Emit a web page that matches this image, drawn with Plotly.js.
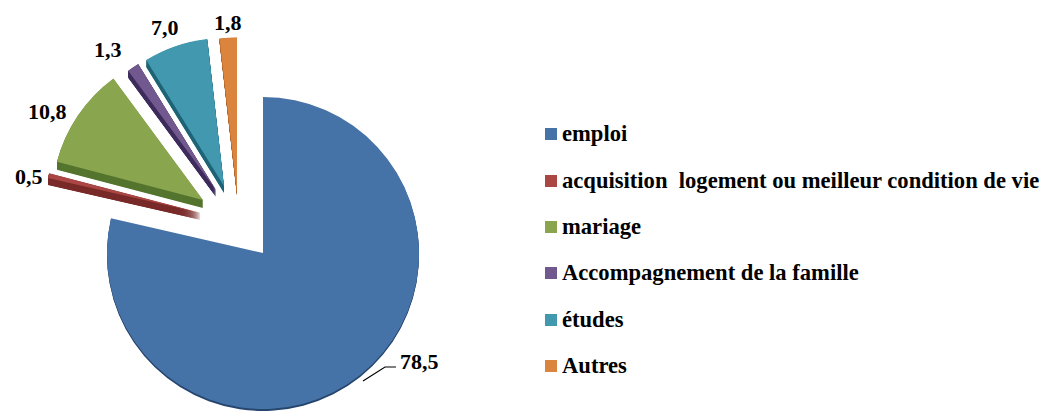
<!DOCTYPE html>
<html>
<head>
<meta charset="utf-8">
<script src="https://cdn.plot.ly/plotly-3.0.1.min.js"></script>
<style>
html,body{margin:0;padding:0;background:#fff;overflow:hidden}
</style>
</head>
<body>
<div id="chart"></div>
<script>
const categories = ["emploi","acquisition  logement ou meilleur condition de vie","mariage","Accompagnement de la famille","études","Autres"];
const values = [78.5,0.5,10.8,1.3,7.0,1.8];
const faceColors = ["#4673a7","#aa4643","#89a54e","#71588f","#4198af","#db843d"];
const sideColors = ["#27466e","#7a2c2a","#55752f","#3f2d5c","#1f6477","#a8622a"];
// where each exploded wedge sits: apex position and radius, in pixels
const apexX = [263,201,203,216,224,237];
const apexY = [253,213,200,190,186,192.5];
const radius = [156,157,151,148,148,155];
const depth = [2,7,8,7,7,3];
const depthStep = [1,0.25,0.5,0.25,0.5,0.25];
const labelX = [419,29,47,108,165,228];
const labelY = [361,177,111,49,28,23];
const legendY = [134,181,227,273,320,366];

const W = 1046, H = 412, FONT = "Liberation Serif";
const py = p => 1 - p / H;

const wedge = (i, color, dy) => ({
  type:"pie", values:values, labels:categories, sort:false, direction:"clockwise", rotation:0,
  marker:{colors:categories.map((_,j)=> j===i ? color : "rgba(0,0,0,0)"), line:{width:0}},
  textinfo:"none", showlegend:false, hoverinfo:"skip",
  domain:{x:[(apexX[i]-radius[i])/W,(apexX[i]+radius[i])/W],
          y:[py(apexY[i]+dy+radius[i]),py(apexY[i]+dy-radius[i])]}
});

const traces = [];
categories.forEach((_,i)=>{
  for(let d=depth[i]; d>0; d-=depthStep[i]) traces.push(wedge(i,sideColors[i],d));
  traces.push(wedge(i,faceColors[i],0));
});

const annotations = [], shapes = [];
values.forEach((v,i)=>{
  annotations.push({xref:"paper",yref:"paper",x:labelX[i]/W,y:py(labelY[i]),xanchor:"center",yanchor:"middle",
    showarrow:false,text:"<b>"+v.toFixed(1).replace(".",",")+"</b>",font:{family:FONT,size:22,color:"#000"}});
  annotations.push({xref:"paper",yref:"paper",x:562/W,y:py(legendY[i]-0.5),xanchor:"left",yanchor:"middle",xshift:-2,
    showarrow:false,text:"<b>"+categories[i].replace("  ","&nbsp; ")+"</b>",font:{family:FONT,size:22.6,color:"#000"}});
  shapes.push({type:"rect",xref:"paper",yref:"paper",x0:545/W,x1:557/W,y0:py(legendY[i]-6),y1:py(legendY[i]+6),
    fillcolor:faceColors[i],line:{width:0}});
});
shapes.push({type:"path",xref:"paper",yref:"paper",
  path:`M ${363/W} ${py(381)} L ${385/W} ${py(367)} L ${396/W} ${py(367)}`,line:{color:"#000",width:1.2}});

Plotly.newPlot("chart",traces,{
  width:W,height:H,margin:{l:0,r:0,t:0,b:0},paper_bgcolor:"#fff",showlegend:false,
  annotations:annotations,shapes:shapes
},{displayModeBar:false,staticPlot:true});
</script>
</body>
</html>
